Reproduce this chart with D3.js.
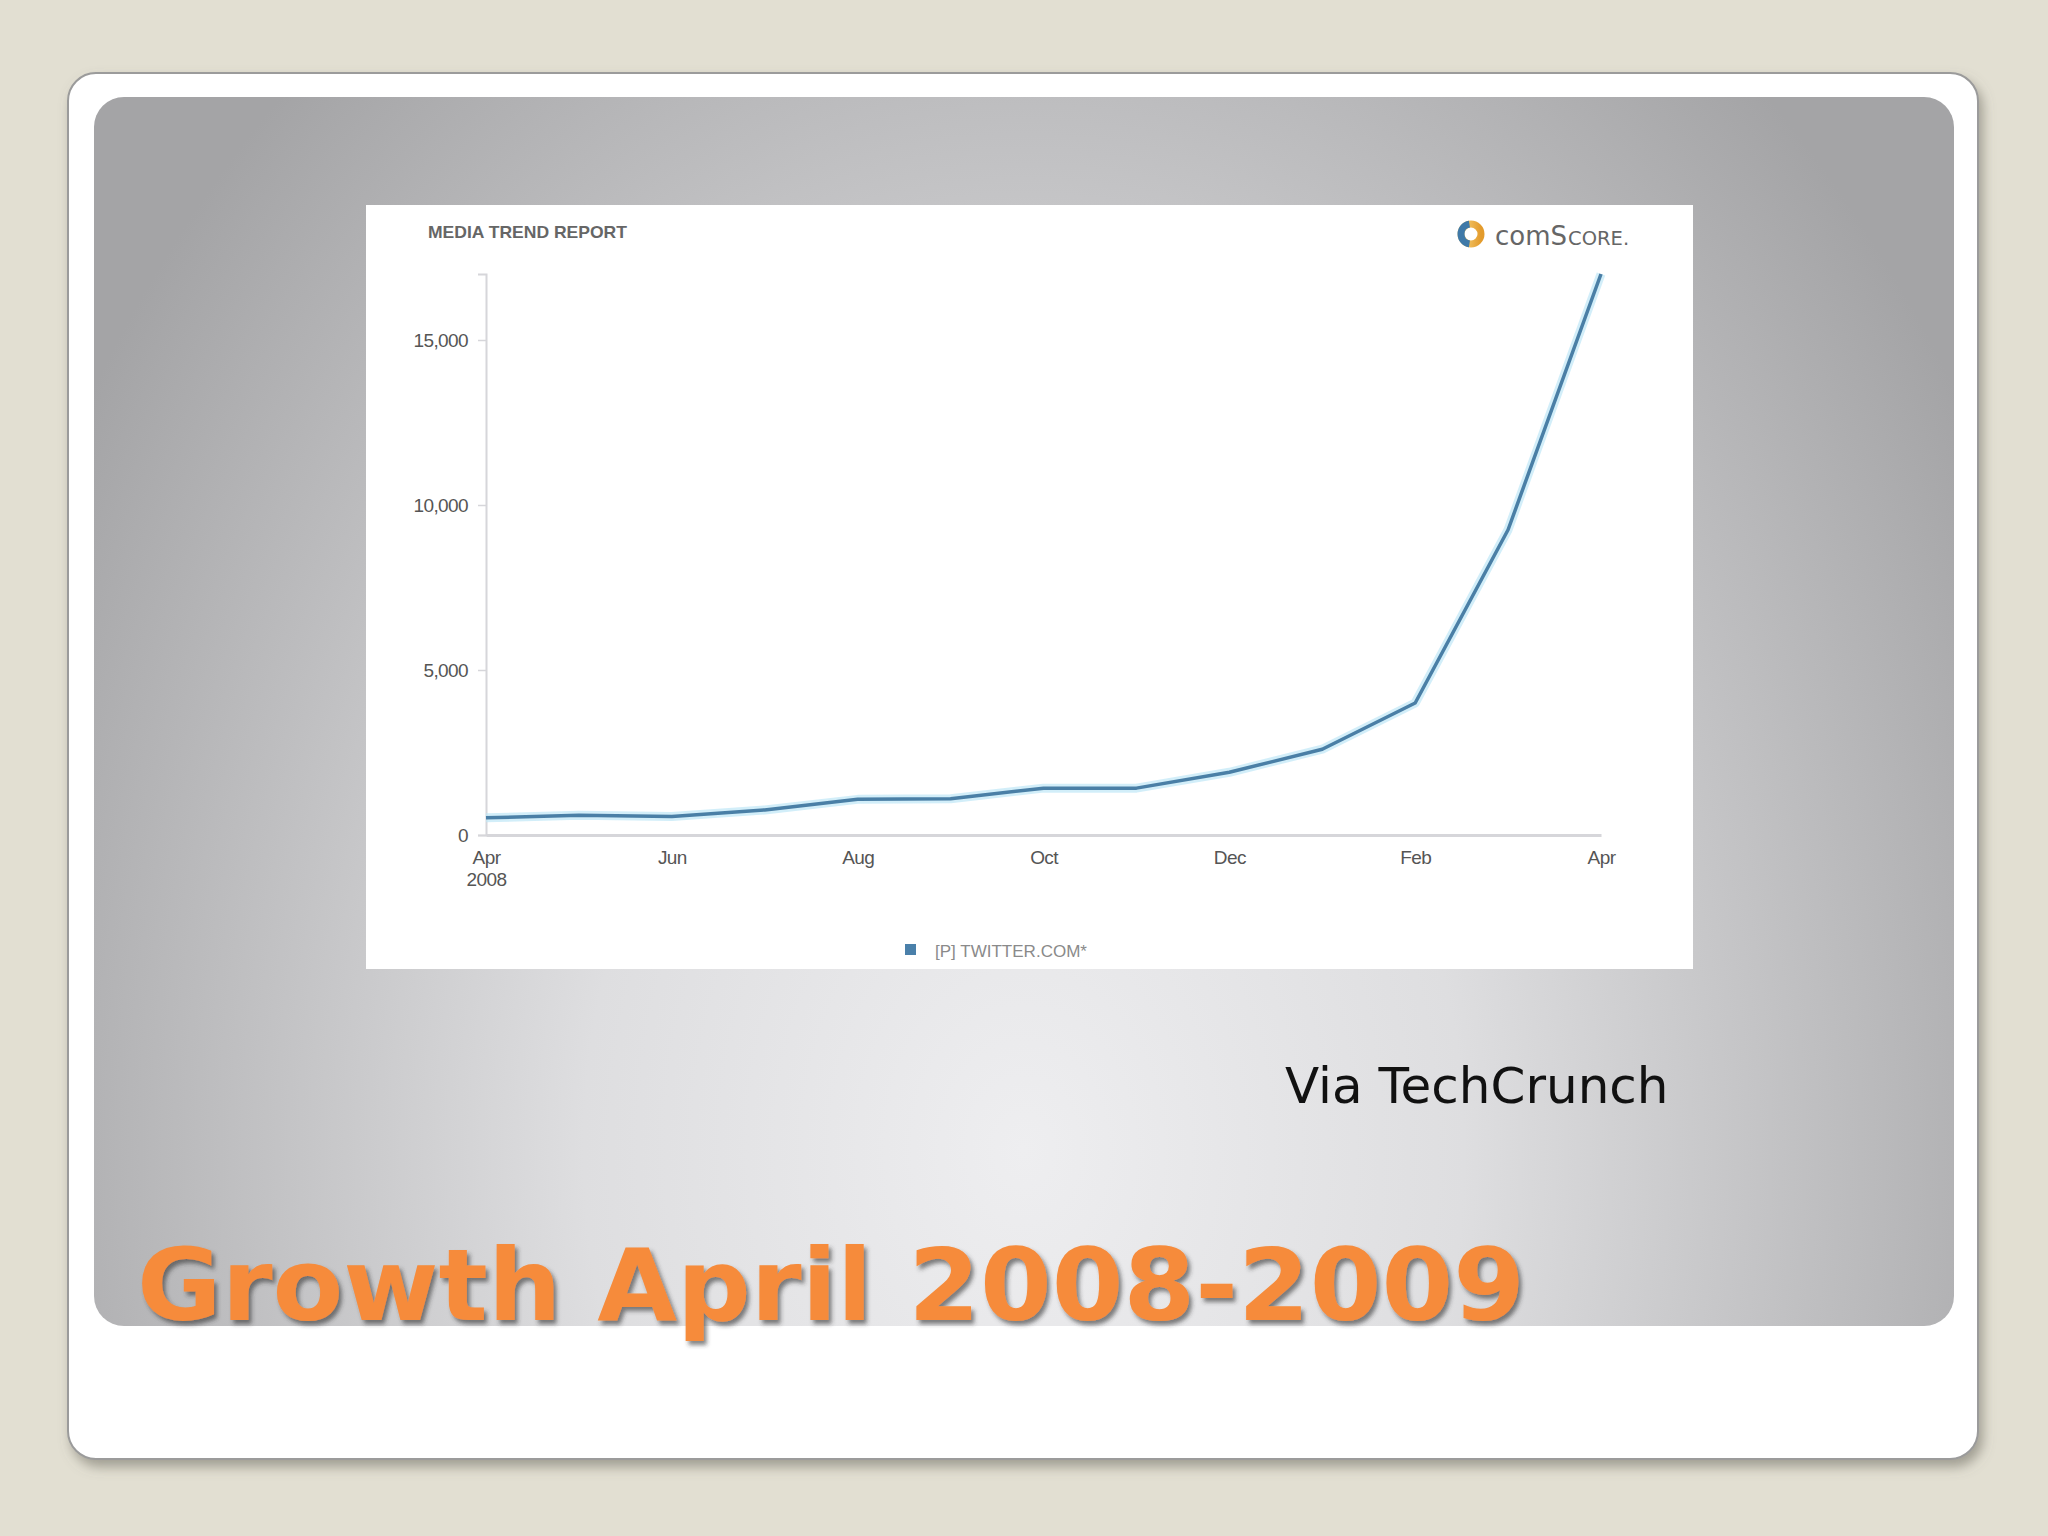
<!DOCTYPE html>
<html>
<head>
<meta charset="utf-8">
<script src="https://cdn.jsdelivr.net/npm/d3@7"></script>
<style>
  html, body { margin: 0; padding: 0; background: #e2dfd2; }
  svg { display: block; }
</style>
</head>
<body>
<script>
// ---- data ----
const months = ["2008-04","2008-05","2008-06","2008-07","2008-08","2008-09","2008-10","2008-11","2008-12","2009-01","2009-02","2009-03","2009-04"];
const visitors = [520, 600, 560, 760, 1080, 1100, 1420, 1420, 1900, 2600, 4000, 9250, 17000];
const xTickMonths = ["2008-04","2008-06","2008-08","2008-10","2008-12","2009-02","2009-04"];
const xTickLabels = ["Apr", "Jun", "Aug", "Oct", "Dec", "Feb", "Apr"];
const xTickSub = ["2008", "", "", "", "", "", ""];
const yTicks = [0, 5000, 10000, 15000];
const seriesName = "[P] TWITTER.COM*";
const chartTitle = "MEDIA TREND REPORT";
const slideTitle = "Growth April 2008-2009";
const sourceNote = "Via TechCrunch";

const W = 2048, H = 1536;
const svg = d3.select("body").append("svg").attr("width", W).attr("height", H);
const defs = svg.append("defs");

// filters / gradients
const cardShadow = defs.append("filter").attr("id","cardShadow").attr("x","-5%").attr("y","-5%").attr("width","110%").attr("height","110%");
cardShadow.append("feDropShadow").attr("dx",4).attr("dy",7).attr("stdDeviation",6).attr("flood-color","#6d6a60").attr("flood-opacity",0.55);

const titleShadow = defs.append("filter").attr("id","titleShadow").attr("x","-5%").attr("y","-20%").attr("width","110%").attr("height","140%");
titleShadow.append("feDropShadow").attr("dx",3).attr("dy",4).attr("stdDeviation",2).attr("flood-color","#333").attr("flood-opacity",0.6);

const panelGrad = defs.append("radialGradient").attr("id","panelGrad")
  .attr("gradientUnits","userSpaceOnUse").attr("cx",1024).attr("cy",1150).attr("r",1100)
  .attr("gradientTransform","translate(1024,1150) scale(1,1.3) translate(-1024,-1150)");
panelGrad.append("stop").attr("offset","0%").attr("stop-color","#eeeef0");
panelGrad.append("stop").attr("offset","40%").attr("stop-color","#dedee0");
panelGrad.append("stop").attr("offset","72%").attr("stop-color","#bfbfc1");
panelGrad.append("stop").attr("offset","100%").attr("stop-color","#a4a4a6");

const logoGrad = defs.append("linearGradient").attr("id","logoGrad").attr("x1","0").attr("x2","1");
logoGrad.append("stop").attr("offset","0%").attr("stop-color","#f7d27a");
logoGrad.append("stop").attr("offset","100%").attr("stop-color","#e39b2c");

// card
svg.append("rect").attr("x",68).attr("y",73).attr("width",1910).attr("height",1386).attr("rx",28)
  .attr("fill","#ffffff").attr("stroke","#9b9b9b").attr("stroke-width",2).attr("filter","url(#cardShadow)");
// panel
svg.append("rect").attr("x",94).attr("y",97).attr("width",1860).attr("height",1229).attr("rx",30)
  .attr("fill","url(#panelGrad)");

// chart box
svg.append("rect").attr("x",366).attr("y",205).attr("width",1327).attr("height",764).attr("fill","#ffffff");

const x = d3.scalePoint().domain(months).range([486, 1601]);
const y = d3.scaleLinear().domain([0, 17000]).range([835, 274]);

const labelFont = "'Liberation Sans', Arial, sans-serif";

// y axis
const yAxis = svg.append("g").attr("transform","translate(486,0)")
  .call(d3.axisLeft(y).tickValues(yTicks).tickFormat(d3.format(",")).tickSize(8).tickPadding(10));
yAxis.select(".domain").attr("stroke","#d6d6da").attr("stroke-width",2);
yAxis.selectAll(".tick line").attr("stroke","#d6d6da").attr("stroke-width",1.5);
yAxis.selectAll(".tick text").attr("fill","#555").attr("font-size",19).attr("font-family",labelFont)
  .attr("letter-spacing","-0.6");

// x axis
const xAxis = svg.append("g").attr("transform","translate(0,835)")
  .call(d3.axisBottom(x).tickValues(xTickMonths).tickSizeOuter(0).tickSize(0).tickPadding(16)
    .tickFormat((d,i) => xTickLabels[i]));
xAxis.select(".domain").attr("stroke","#d6d6da").attr("stroke-width",3);
xAxis.selectAll(".tick text").attr("fill","#555").attr("font-size",19).attr("font-family",labelFont)
  .attr("letter-spacing","-0.6");
xAxis.selectAll(".tick").filter((d,i) => xTickSub[i] !== "")
  .append("text").attr("y",38).attr("dy","0.71em").attr("fill","#555").attr("font-size",19)
  .attr("font-family",labelFont).attr("letter-spacing","-0.6").attr("text-anchor","middle")
  .text((d) => xTickSub[xTickMonths.indexOf(d)]);

// line
const line = d3.line().x((d,i) => x(months[i])).y(d => y(d));
svg.append("path").datum(visitors).attr("d", line).attr("fill","none")
  .attr("stroke","#bfe7f6").attr("stroke-width",9).attr("stroke-opacity",0.7).attr("stroke-linejoin","round");
svg.append("path").datum(visitors).attr("d", line).attr("fill","none")
  .attr("stroke","#4a7fa6").attr("stroke-width",3.5).attr("stroke-linejoin","round");

// chart header
svg.append("text").attr("x",428).attr("y",238).attr("font-family",labelFont).attr("font-weight","bold")
  .attr("font-size",17).attr("fill","#666").attr("textLength",199).attr("lengthAdjust","spacingAndGlyphs")
  .text(chartTitle);

// comScore logo
const logo = svg.append("g");
logo.append("circle").attr("cx",1471).attr("cy",234).attr("r",10).attr("fill","none")
  .attr("stroke","url(#logoGrad)").attr("stroke-width",7);
logo.append("path").attr("d", d3.arc()({innerRadius:6.5, outerRadius:13.5, startAngle:-Math.PI*0.95, endAngle:-Math.PI*0.05}))
  .attr("transform","translate(1471,234)").attr("fill","#3f79a8");
const logoA = svg.append("text").attr("x",1495).attr("y",245).attr("font-family","'DejaVu Sans', Verdana, sans-serif")
  .attr("fill","#666").attr("font-size",26).text("comS");
const wA = logoA.node().getComputedTextLength();
svg.append("text").attr("x",1495 + wA + 1).attr("y",245).attr("font-family","'DejaVu Sans', Verdana, sans-serif")
  .attr("fill","#666").attr("font-size",19.5).text("CORE.");

// legend
svg.append("rect").attr("x",905).attr("y",944).attr("width",11).attr("height",11).attr("fill","#4a80aa");
svg.append("text").attr("x",935).attr("y",957).attr("font-family",labelFont).attr("font-size",17)
  .attr("fill","#8a8a8a").attr("textLength",152).attr("lengthAdjust","spacingAndGlyphs").text(seriesName);

// source note
svg.append("text").attr("x",1285).attr("y",1103).attr("font-family","'DejaVu Sans', Verdana, sans-serif")
  .attr("font-size",50).attr("fill","#111").text(sourceNote);

// slide title
svg.append("text").attr("x",137).attr("y",1320).attr("font-family","'DejaVu Sans', Verdana, sans-serif")
  .attr("font-weight","bold").attr("font-size",100).attr("fill","#f68b3b")
  .attr("textLength",1388).attr("lengthAdjust","spacingAndGlyphs")
  .attr("filter","url(#titleShadow)").text(slideTitle);
</script>
</body>
</html>
